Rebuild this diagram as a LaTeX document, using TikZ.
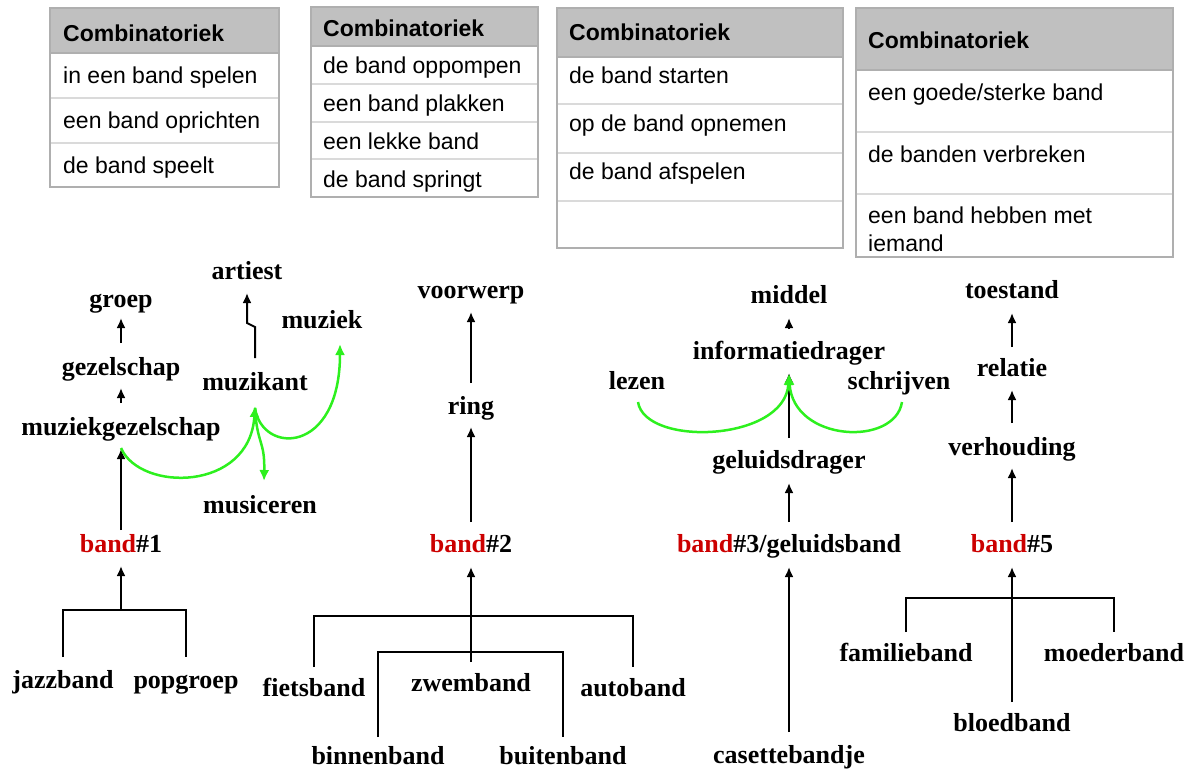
\documentclass[tikz,border=0pt]{standalone}
\usepackage{fontspec}
\setmainfont{Liberation Serif}
\newfontfamily\arialf{Liberation Sans}
\usetikzlibrary{arrows.meta}
\definecolor{bandred}{RGB}{204,0,0}
\definecolor{lgreen}{RGB}{45,240,30}
\definecolor{hdrgray}{RGB}{192,192,192}
\definecolor{tborder}{RGB}{175,175,175}
\definecolor{tline}{RGB}{218,218,218}
\begin{document}
\begin{tikzpicture}[x=1pt,y=-1pt,
  lbl/.style={font=\fontsize{26}{30}\selectfont\bfseries, inner sep=0pt, text height=18pt, text depth=6pt},
  arr/.style={line width=2pt, -{Latex[length=10pt,width=9pt]}},
  brk/.style={line width=2pt},
  garr/.style={line width=2.5pt, draw=lgreen, -{Latex[length=11pt,width=10pt]}},
  thead/.style={font=\arialf\bfseries\fontsize{23}{28}\selectfont, anchor=west, inner sep=0pt, text height=17pt, text depth=5pt},
  tcell/.style={font=\arialf\fontsize{23}{28}\selectfont, anchor=west, inner sep=0pt, text height=17pt, text depth=5pt},
  tsep/.style={draw=tline, line width=1.2pt},
  thsep/.style={draw=tborder, line width=1.2pt},
  tframe/.style={draw=tborder, line width=1.5pt},
]
\useasboundingbox (0,0) rectangle (1191,772);

% ---------------- Table 1
\fill[hdrgray] (50,8) rectangle (279,53);
\draw[tsep] (50,98) -- (279,98) (50,143) -- (279,143);
\draw[thsep] (50,53) -- (279,53);
\draw[tframe] (50,8) rectangle (279,187);
\node[thead] (t1h) at (63,35) {Combinatoriek};
\node[tcell] (t1a) at (63,77) {in een band spelen};
\node[tcell] (t1b) at (63,122) {een band oprichten};
\node[tcell] (t1c) at (63,167) {de band speelt};

% ---------------- Table 2
\fill[hdrgray] (311,7) rectangle (538,46);
\draw[tsep] (311,84) -- (538,84) (311,122) -- (538,122) (311,159) -- (538,159);
\draw[thsep] (311,46) -- (538,46);
\draw[tframe] (311,7) rectangle (538,197);
\node[thead] (t2h) at (323,30) {Combinatoriek};
\node[tcell] (t2a) at (323,67) {de band oppompen};
\node[tcell] (t2b) at (323,105) {een band plakken};
\node[tcell] (t2c) at (323,143) {een lekke band};
\node[tcell] (t2d) at (323,181) {de band springt};

% ---------------- Table 3
\fill[hdrgray] (557,8) rectangle (843,57);
\draw[tsep] (557,104) -- (843,104) (557,153) -- (843,153) (557,201) -- (843,201);
\draw[thsep] (557,57) -- (843,57);
\draw[tframe] (557,8) rectangle (843,248);
\node[thead] (t3h) at (569,34) {Combinatoriek};
\node[tcell] (t3a) at (569,77) {de band starten};
\node[tcell] (t3b) at (569,125) {op de band opnemen};
\node[tcell] (t3c) at (569,173) {de band afspelen};

% ---------------- Table 4
\fill[hdrgray] (856,8) rectangle (1173,70);
\draw[tsep] (856,132) -- (1173,132) (856,194) -- (1173,194);
\draw[thsep] (856,70) -- (1173,70);
\draw[tframe] (856,8) rectangle (1173,257);
\node[thead] (t4h) at (868,42) {Combinatoriek};
\node[tcell] (t4a) at (868,94) {een goede/sterke band};
\node[tcell] (t4b) at (868,156) {de banden verbreken};
\node[tcell] (t4c) at (868,217) {een band hebben met};
\node[tcell] (t4d) at (868,245) {iemand};

% ---------------- Graph 1
\node[lbl] (groep) at (121,301) {groep};
\node[lbl] (gez) at (121,369) {gezelschap};
\node[lbl] (mgz) at (121,429) {muziekgezelschap};
\node[lbl] (artiest) at (247,273) {artiest};
\node[lbl] (muziek) at (322,322) {muziek};
\node[lbl] (muzikant) at (255,384) {muzikant};
\node[lbl] (musiceren) at (260,507) {musiceren};
\node[lbl] (band1) at (121,546) {\textcolor{bandred}{band}\#1};
\node[lbl] (jazzband) at (63,682) {jazzband};
\node[lbl] (popgroep) at (186,682) {popgroep};

\draw[arr] (band1 |- 0,530) -- (mgz |- 0,449);
\draw[arr] (mgz |- 0,403) -- (gez |- 0,388);
\draw[arr] (gez |- 0,343) -- (groep |- 0,318);
\draw[arr] (muzikant |- 0,358) -- (muzikant |- 0,327) -- (artiest |- 0,323) -- (artiest |- 0,293);
\draw[brk] (jazzband |- 0,657) -- (jazzband |- 0,610) -- (popgroep |- 0,610) -- (popgroep |- 0,657);
\draw[arr] (band1 |- 0,610) -- (band1 |- 0,566);

\draw[garr] (mgz |- 0,448) .. controls (140,492) and (250,492) .. (muzikant |- 0,406);
\draw[garr] (muzikant |- 0,408) .. controls (262,455) and (340,455) .. (340,344);
\draw[garr] (muzikant |- 0,408) .. controls (257,445) and (265,440) .. (264,481);

% ---------------- Graph 2
\node[lbl] (voorwerp) at (471,292) {voorwerp};
\node[lbl] (ring) at (471,408) {ring};
\node[lbl] (band2) at (471,546) {\textcolor{bandred}{band}\#2};
\node[lbl] (fietsband) at (314,690) {fietsband};
\node[lbl] (zwemband) at (471,685) {zwemband};
\node[lbl] (autoband) at (633,690) {autoband};
\node[lbl] (binnenband) at (378,758) {binnenband};
\node[lbl] (buitenband) at (563,758) {buitenband};

\draw[arr] (ring |- 0,383) -- (voorwerp |- 0,312);
\draw[arr] (band2 |- 0,522) -- (ring |- 0,427);
\draw[brk] (fietsband |- 0,667) -- (fietsband |- 0,616) -- (autoband |- 0,616) -- (autoband |- 0,667);
\draw[brk] (binnenband |- 0,737) -- (binnenband |- 0,652) -- (buitenband |- 0,652) -- (buitenband |- 0,737);
\draw[arr] (zwemband |- 0,662) -- (band2 |- 0,567);

% ---------------- Graph 3
\node[lbl] (middel) at (789,297) {middel};
\node[lbl] (infod) at (789,353) {informatiedrager};
\node[lbl] (lezen) at (637,383) {lezen};
\node[lbl] (schrijven) at (899,383) {schrijven};
\node[lbl] (gdrager) at (789,462) {geluidsdrager};
\node[lbl] (band3) at (789,546) {\textcolor{bandred}{band}\#3/geluidsband};
\node[lbl] (casette) at (789,757) {casettebandje};

\draw[arr] (infod |- 0,329) -- (middel |- 0,318);
\draw[arr] (gdrager |- 0,438) -- (infod |- 0,373);
\draw[arr] (band3 |- 0,522) -- (gdrager |- 0,483);
\draw[arr] (casette |- 0,732) -- (band3 |- 0,567);
\draw[garr] (638,402) .. controls (645,447) and (785,442) .. (infod |- 0,374);
\draw[garr] (902,402) .. controls (895,447) and (793,442) .. (infod |- 0,374);

% ---------------- Graph 5
\node[lbl] (toestand) at (1012,292) {toestand};
\node[lbl] (relatie) at (1012,370) {relatie};
\node[lbl] (verhouding) at (1012,449) {verhouding};
\node[lbl] (band5) at (1012,546) {\textcolor{bandred}{band}\#5};
\node[lbl] (familieband) at (906,655) {familieband};
\node[lbl] (moederband) at (1114,655) {moederband};
\node[lbl] (bloedband) at (1012,725) {bloedband};

\draw[arr] (relatie |- 0,347) -- (toestand |- 0,313);
\draw[arr] (verhouding |- 0,423) -- (relatie |- 0,390);
\draw[arr] (band5 |- 0,522) -- (verhouding |- 0,468);
\draw[brk] (familieband |- 0,632) -- (familieband |- 0,598) -- (moederband |- 0,598) -- (moederband |- 0,632);
\draw[arr] (bloedband |- 0,702) -- (band5 |- 0,567);
\end{tikzpicture}
\end{document}
